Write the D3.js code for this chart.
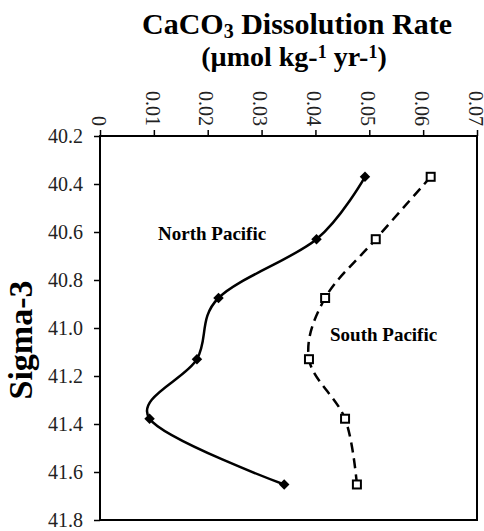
<!DOCTYPE html>
<html>
<head>
<meta charset="utf-8">
<script src="https://cdn.jsdelivr.net/npm/d3@7"></script>
<style>
  body { margin: 0; background: #fff; }
  text { font-family: "Liberation Serif", "Times New Roman", serif; }
</style>
</head>
<body>
<svg id="chart"></svg>
<script>
// sigma-3 levels (same for both basins)
const sigma = [40.37, 40.63, 40.875, 41.13, 41.378, 41.652]
const northPacific = [0.0492, 0.0402, 0.0220, 0.0180, 0.0092, 0.0342]
const southPacific = [0.0614, 0.0512, 0.0418, 0.0388, 0.0455, 0.0477]
const xTicks = [0, 0.01, 0.02, 0.03, 0.04, 0.05, 0.06, 0.07]
const yTicks = [40.2, 40.4, 40.6, 40.8, 41.0, 41.2, 41.4, 41.6, 41.8]

const width = 484
const height = 531
const margin = { top: 136, right: 7, bottom: 11, left: 100 }

const svg = d3.select("#chart").attr("width", width).attr("height", height)

const x = d3.scaleLinear().domain([0, 0.07]).range([margin.left, width - margin.right])
const y = d3.scaleLinear().domain([40.2, 41.8]).range([margin.top, height - margin.bottom])

// frame
svg.append("rect")
    .attr("x", x(0)).attr("y", y(40.2))
    .attr("width", x(0.07) - x(0)).attr("height", y(41.8) - y(40.2))
    .attr("fill", "none").attr("stroke", "#000").attr("stroke-width", 2)

// top axis
const xAxis = svg.append("g")
    .attr("transform", `translate(0,${y(40.2)})`)
    .call(d3.axisTop(x).tickValues(xTicks).tickSize(6).tickPadding(10)
        .tickFormat(d => d === 0 ? "0" : d3.format(".2f")(d)))
xAxis.select(".domain").remove()
xAxis.selectAll("line").attr("stroke", "#000").attr("stroke-width", 1.5)
xAxis.selectAll("text")
    .attr("font-size", 20).attr("fill", "#222")
    .attr("transform", "rotate(90)")
    .attr("text-anchor", "end")
    .attr("x", -10).attr("y", 0).attr("dy", "0.44em")

// left axis
const yAxis = svg.append("g")
    .attr("transform", `translate(${x(0)},0)`)
    .call(d3.axisLeft(y).tickValues(yTicks).tickSize(6).tickPadding(11).tickFormat(d3.format(".1f")))
yAxis.select(".domain").remove()
yAxis.selectAll("line").attr("stroke", "#000").attr("stroke-width", 1.5)
yAxis.selectAll("text").attr("font-size", 20).attr("fill", "#222")

// titles
const title = svg.append("text")
    .attr("x", 297).attr("y", 34)
    .attr("text-anchor", "middle").attr("font-size", 30).attr("font-weight", "bold")
title.append("tspan").text("CaCO")
title.append("tspan").attr("font-size", 20).attr("dy", 4).text("3")
title.append("tspan").attr("dy", -4).text(" Dissolution Rate")

const unit = svg.append("text")
    .attr("x", 294).attr("y", 66)
    .attr("text-anchor", "middle").attr("font-size", 28).attr("font-weight", "bold")
unit.append("tspan").text("(\u00b5mol kg-")
unit.append("tspan").attr("font-size", 18).attr("dy", -8).text("1")
unit.append("tspan").attr("dy", 8).text(" yr-")
unit.append("tspan").attr("font-size", 18).attr("dy", -8).text("1")
unit.append("tspan").attr("dy", 8).text(")")

svg.append("text")
    .attr("transform", `translate(32,340) rotate(-90)`)
    .attr("text-anchor", "middle").attr("font-size", 34).attr("font-weight", "bold")
    .text("Sigma-3")

// lines
const line = d3.line()
    .x(d => x(d[0])).y(d => y(d[1]))
    .curve(d3.curveCardinal.tension(0))

const np = northPacific.map((v, i) => [v, sigma[i]])
const sp = southPacific.map((v, i) => [v, sigma[i]])

svg.append("path").datum(np)
    .attr("d", line).attr("fill", "none").attr("stroke", "#000").attr("stroke-width", 2.5)

svg.append("path").datum(sp)
    .attr("d", line).attr("fill", "none").attr("stroke", "#000").attr("stroke-width", 2.5)
    .attr("stroke-dasharray", "10,6")

// markers
svg.append("g").selectAll("path").data(np).join("path")
    .attr("transform", d => `translate(${x(d[0])},${y(d[1])})`)
    .attr("d", d3.symbol(d3.symbolDiamond2, 70))
    .attr("fill", "#000")

svg.append("g").selectAll("rect").data(sp).join("rect")
    .attr("x", d => x(d[0]) - 4).attr("y", d => y(d[1]) - 4)
    .attr("width", 8).attr("height", 8)
    .attr("fill", "#fff").attr("stroke", "#000").attr("stroke-width", 2)

// series labels
svg.append("text").attr("x", 158).attr("y", 240)
    .attr("font-size", 19).attr("font-weight", "bold").text("North Pacific")
svg.append("text").attr("x", 330).attr("y", 341)
    .attr("font-size", 19).attr("font-weight", "bold").text("South Pacific")
</script>
</body>
</html>
